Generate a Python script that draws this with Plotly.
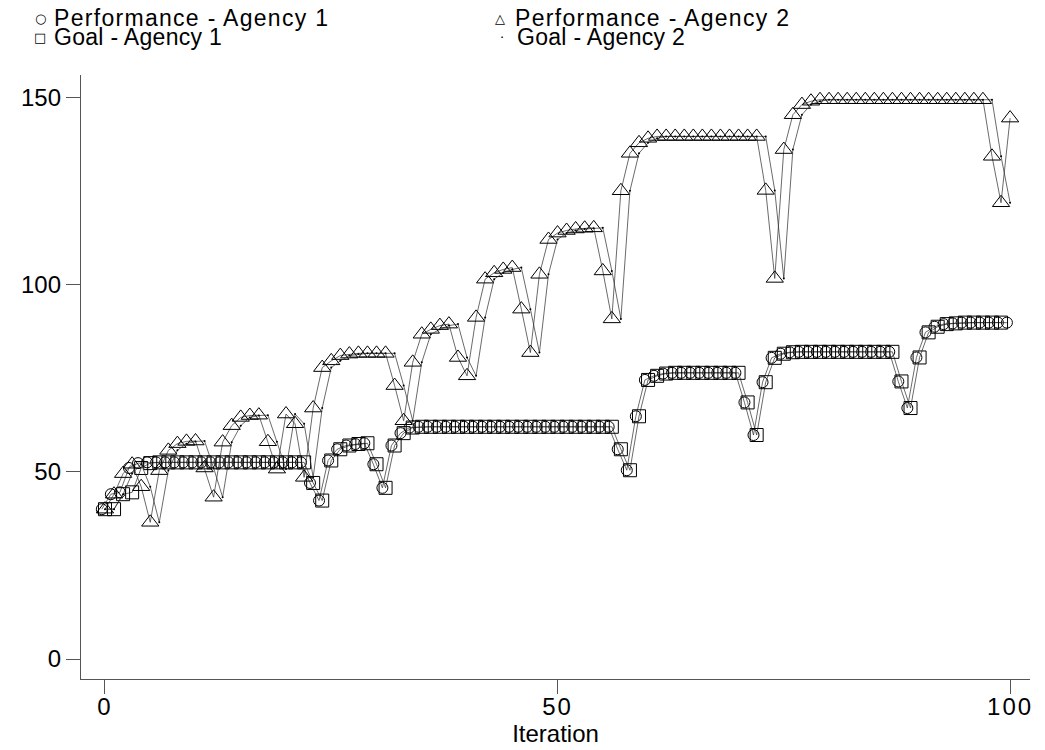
import plotly.graph_objects as go

iterations = list(range(101))
# circles of agency 1 are drawn slightly left of the integer iteration in the reference
perf1_x_shift = -0.35

perf_agency1 = [
    40, 44, 44.5, 51, 52.3,
    52.5, 52.5, 52.5, 52.5, 52.5, 52.5, 52.5, 52.5, 52.5, 52.5, 52.5, 52.5, 52.5, 52.5, 52.5, 52.5, 52.5, 52.5,
    47, 42.3, 53, 56, 57, 57.4, 57.6, 52, 45.7, 57, 60.3, 61.8,
    62, 62, 62, 62, 62, 62, 62, 62, 62, 62, 62, 62, 62, 62, 62, 62, 62, 62, 62, 62, 62, 62,
    56, 50.4, 64.8, 74.5, 75.6, 76.2,
    76.4, 76.4, 76.4, 76.4, 76.4, 76.4, 76.4, 76.4,
    68.5, 59.8, 73.9, 80.4, 81.5, 81.9,
    82, 82, 82, 82, 82, 82, 82, 82, 82, 82, 82,
    74.1, 67, 80.5, 87.2, 88.7, 89.4, 89.6,
    89.8, 89.8, 89.8, 89.8, 89.8, 89.8,
]

goal_agency1 = [
    40, 40, 44, 44.5, 51, 52.3,
    52.5, 52.5, 52.5, 52.5, 52.5, 52.5, 52.5, 52.5, 52.5, 52.5, 52.5, 52.5, 52.5, 52.5, 52.5, 52.5, 52.5,
    47, 42.3, 53, 56, 57, 57.4, 57.6, 52, 45.7, 57, 60.3, 61.8,
    62, 62, 62, 62, 62, 62, 62, 62, 62, 62, 62, 62, 62, 62, 62, 62, 62, 62, 62, 62, 62, 62,
    56, 50.4, 64.8, 74.5, 75.6, 76.2,
    76.4, 76.4, 76.4, 76.4, 76.4, 76.4, 76.4, 76.4,
    68.5, 59.8, 73.9, 80.4, 81.5, 81.9,
    82, 82, 82, 82, 82, 82, 82, 82, 82, 82, 82,
    74.1, 67, 80.5, 87.2, 88.7, 89.4, 89.6,
    89.8, 89.8, 89.8, 89.8, 89.8,
]

perf_agency2 = [
    40, 44, 49.5, 52, 46, 36.5, 50.3, 55.7, 57.5, 58.1, 58.2,
    51, 43.2, 57.9, 62.3, 64.5, 65, 65.1, 58, 50.7, 65.4,
    62.8, 48.5, 67, 77.8, 79.6, 81, 81.4, 81.6, 81.6, 81.6,
    81.6, 73, 63.6, 79.2, 86.7, 88, 89, 89.4, 80.5, 75.6,
    91.2, 101.4, 103.1, 104, 104.5, 93.4, 81.8, 102.7, 112, 113.7,
    114.4, 114.8, 115, 115.1, 103.6, 90.8, 125, 135, 137.8, 139,
    139.5, 139.5, 139.5, 139.5, 139.5, 139.5, 139.5, 139.5, 139.5, 139.5, 139.5, 139.5,
    125.1, 101.6, 136, 145.3, 148, 148.9,
    149.3, 149.3, 149.3, 149.3, 149.3, 149.3, 149.3, 149.3, 149.3, 149.3,
    149.3, 149.3, 149.3, 149.3, 149.3, 149.3, 149.3, 149.3, 149.3,
    134.2, 121.8, 144.4,
]

goal_agency2 = [
    40, 40, 44, 49.5, 52, 46, 36.5, 50.3, 55.7, 57.5, 58.1,
    58.2, 51, 43.2, 57.9, 62.3, 64.5, 65, 65.1, 58, 50.7,
    65.4, 62.8, 48.5, 67, 77.8, 79.6, 81, 81.4, 81.6, 81.6,
    81.6, 81.6, 73, 63.6, 79.2, 86.7, 88, 89, 89.4, 80.5,
    75.6, 91.2, 101.4, 103.1, 104, 104.5, 93.4, 81.8, 102.7, 112,
    113.7, 114.4, 114.8, 115, 115.1, 103.6, 90.8, 125, 135, 137.8,
    139, 139.5, 139.5, 139.5, 139.5, 139.5, 139.5, 139.5, 139.5, 139.5, 139.5, 139.5,
    139.5, 125.1, 101.6, 136, 145.3, 148,
    148.9, 149.3, 149.3, 149.3, 149.3, 149.3, 149.3, 149.3, 149.3, 149.3,
    149.3, 149.3, 149.3, 149.3, 149.3, 149.3, 149.3, 149.3, 149.3,
    149.3, 134.2, 121.8,
]

x_ticks = [0, 50, 100]
y_ticks = [0, 50, 100, 150]

legend_labels = ["Performance - Agency 1", "Performance - Agency 2",
                 "Goal - Agency 1", "Goal - Agency 2"]
legend_symbols = ["\u25CB", "\u25B3", "\u25A1", "\u00B7"]
legend_spacing = [1.3, 1.3, 0.3, 0.3]

FONT = "Liberation Sans, Arial, sans-serif"
LINE = "#2a2a2a"
X_RANGE = [-2.65, 102.2]

fig = go.Figure()
fig.add_trace(go.Scatter(x=[i + perf1_x_shift for i in iterations], y=perf_agency1,
                         mode="lines+markers", name=legend_labels[0], showlegend=False,
                         line=dict(color=LINE, width=0.7),
                         marker=dict(symbol="circle-open", size=11, color="black",
                                     line=dict(width=1, color="black"))))
fig.add_trace(go.Scatter(x=iterations, y=goal_agency1, mode="lines+markers",
                         name=legend_labels[2], showlegend=False,
                         line=dict(color=LINE, width=0.7),
                         marker=dict(symbol="square-open", size=13, color="black",
                                     line=dict(width=1, color="black"))))
fig.add_trace(go.Scatter(x=iterations, y=perf_agency2, mode="lines+markers",
                         name=legend_labels[1], showlegend=False,
                         line=dict(color=LINE, width=0.7),
                         marker=dict(symbol="triangle-up-open", size=15, color="black",
                                     line=dict(width=1, color="black"))))
fig.add_trace(go.Scatter(x=iterations, y=goal_agency2, mode="lines+markers", xaxis="x2",
                         name=legend_labels[3], showlegend=False,
                         line=dict(color=LINE, width=0.7),
                         marker=dict(symbol="circle", size=2, color="black")))

# legend drawn as text annotations (pixel positions converted to paper coords)
L, T, W, H = 81, 75, 949, 604
def px(xp):
    return (xp - L) / W
def py(yp):
    return (T + H - yp) / H

legend_pos = [(40, 52, 18), (500, 513, 18), (40, 52, 37), (502, 515, 37)]
annotations = []
for (sx, tx, yy), sym, lab, sp in zip(legend_pos, legend_symbols, legend_labels, legend_spacing):
    annotations.append(dict(x=px(sx), y=py(yy), xref="paper", yref="paper",
                            text=sym, showarrow=False, xanchor="center", yanchor="middle",
                            font=dict(family="DejaVu Sans", size=13, color="black")))
    annotations.append(dict(x=px(tx), y=py(yy), xref="paper", yref="paper",
                            text='<span style="letter-spacing:%spx">%s</span>' % (sp, lab),
                            showarrow=False, xanchor="left", yanchor="middle",
                            font=dict(family=FONT, size=23, color="black")))

fig.update_layout(
    width=1045, height=750,
    margin=dict(l=L, r=1045 - L - W, t=T, b=750 - T - H, pad=0),
    paper_bgcolor="white", plot_bgcolor="white",
    showlegend=False,
    annotations=annotations,
    font=dict(family=FONT, size=24, color="black"),
    # primary x axis: line and tick marks only
    xaxis=dict(range=X_RANGE, tickvals=x_ticks, showticklabels=False,
               showgrid=False, zeroline=False, showline=True, linecolor="#555", linewidth=1.3,
               ticks="outside", ticklen=14, tickcolor="#555", tickwidth=1.3,
               automargin=False),
    # overlay x axis: tick labels and title
    xaxis2=dict(range=X_RANGE, matches="x", overlaying="x", anchor="y", side="bottom",
                tickvals=x_ticks,
                ticktext=['<span style="letter-spacing:2px">' + str(v) + '</span>' for v in x_ticks],
                showgrid=False, zeroline=False, showline=False, ticks="",
                ticklabelstandoff=11, automargin=False,
                title=dict(text="Iteration", font=dict(size=24), standoff=0),
                tickfont=dict(size=24)),
    yaxis=dict(range=[-5.33, 155.9], tickvals=y_ticks, ticktext=[str(v) for v in y_ticks],
               showgrid=False, zeroline=False, showline=True, linecolor="#555", linewidth=1.3,
               ticks="outside", ticklen=14, tickcolor="#555", tickwidth=1.3,
               automargin=False,
               tickfont=dict(size=24)),
)

fig.write_html("out.html")
